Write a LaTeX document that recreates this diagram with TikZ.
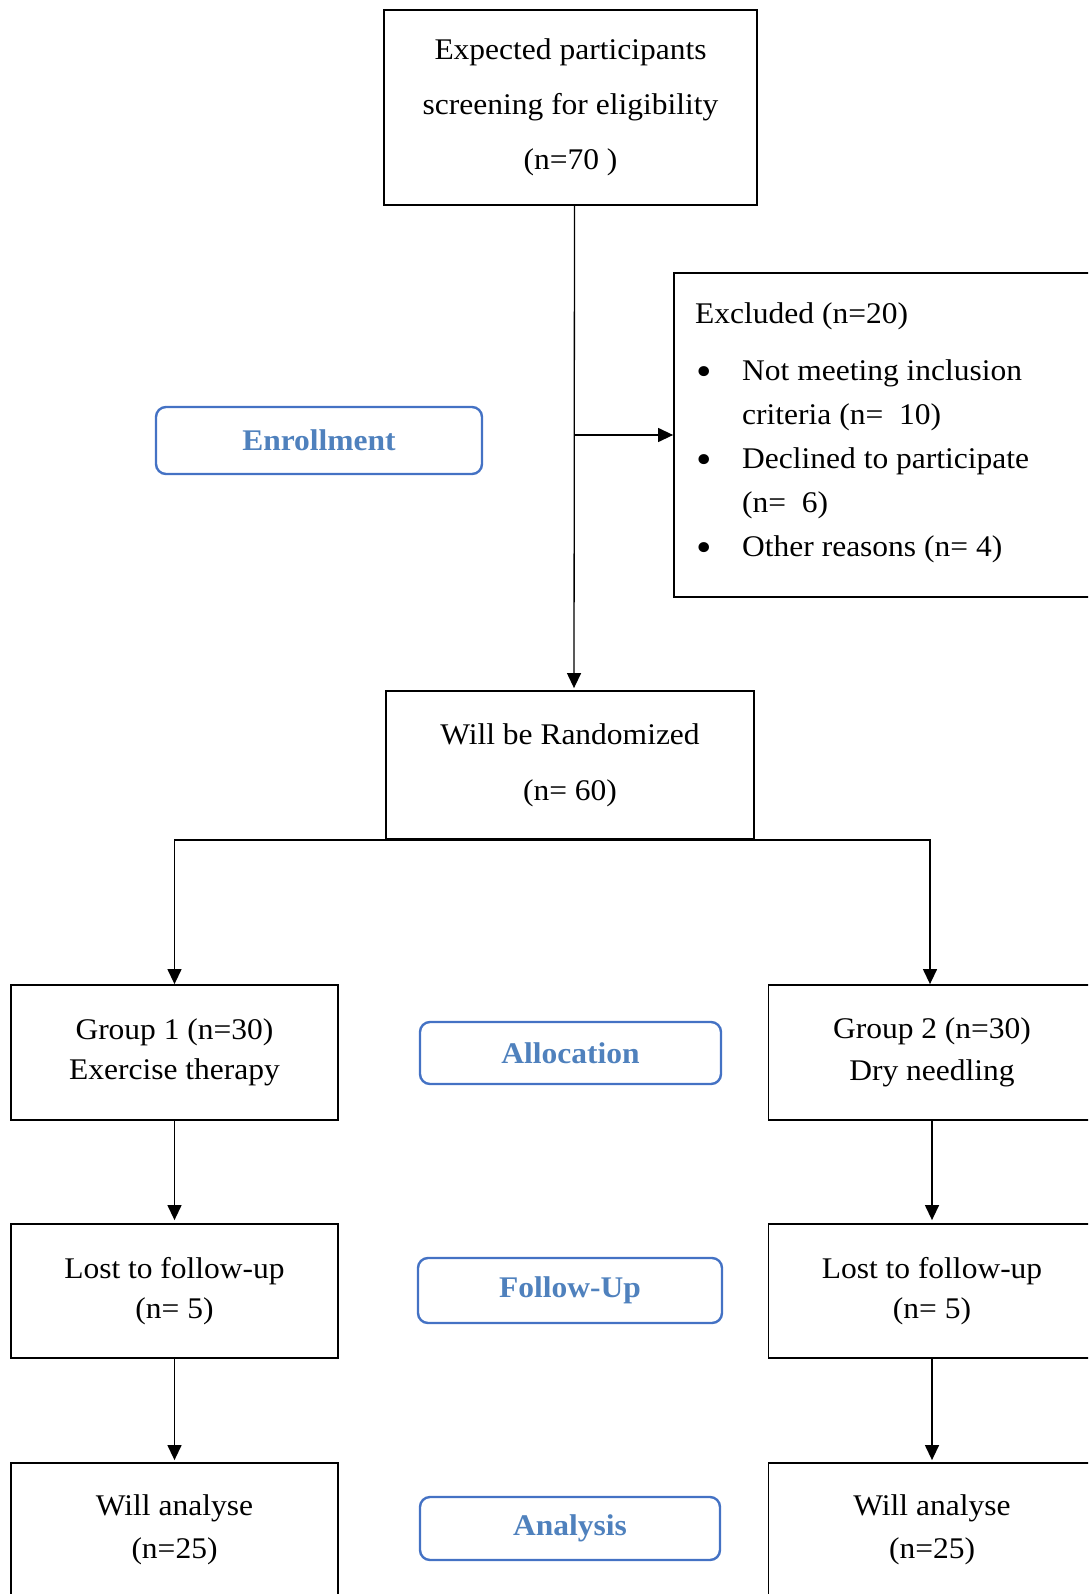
\documentclass[tikz,border=0pt]{standalone}
\usepackage{fontspec}
\setmainfont[FakeStretch=1.05]{Liberation Serif}
\usetikzlibrary{arrows}
\usetikzlibrary{arrows.meta}
\definecolor{stagetext}{RGB}{79,129,189}
\definecolor{stageedge}{RGB}{68,114,196}
\newcommand{\reasonmark}{\makebox[47pt][l]{\hspace{1pt}\raisebox{-5pt}{\fontsize{42}{42}\selectfont\textbullet}}}
\tikzset{
  box/.style={draw, line width=1.8pt, align=center, inner sep=0pt},
  stagebox/.style={draw=stageedge, line width=2.4pt, rounded corners=10pt, text=stagetext,
    font=\bfseries\fontsize{30}{36}\selectfont, inner sep=0pt},
  link/.style={line width=1.3pt, -{Triangle[length=15pt,width=14pt]}},
}
\begin{document}
\begin{tikzpicture}[x=1pt,y=-1pt]
    \useasboundingbox (0,0) rectangle (1088,1594);
    \clip (0,0) rectangle (1088,1594);
    \node[box, minimum width=373pt, minimum height=195pt, font=\fontsize{30}{55}\selectfont] (screen) at (570.5,107.5) {Expected participants\\screening for eligibility\\(n=70 )};
    \node[box, minimum width=440pt, minimum height=324pt] (excluded) at (894,435) {};
    \node[anchor=north west, inner sep=0pt, align=left, font=\fontsize{30}{44}\selectfont] (reasons) at (695,302) {Excluded (n=20)\\[13pt]
      \reasonmark Not meeting inclusion\\
      \hspace*{47pt}criteria (n=~~10)\\
      \reasonmark Declined to participate\\
      \hspace*{47pt}(n=~~6)\\
      \reasonmark Other reasons (n= 4)};
    \node[stagebox, minimum width=326pt, minimum height=67pt] (enrollment) at (319,440.5) {Enrollment};
    \node[box, minimum width=368pt, minimum height=148pt, font=\fontsize{30}{56}\selectfont] (random) at (570,765) {Will be Randomized\\(n= 60)};
    \draw[link, shorten >=2pt] ([xshift=4pt]screen.south) -- ([xshift=4pt]random.north);
    \draw[link] ([xshift=4pt]screen.south |- excluded.west) -- (excluded.west);

    \node[box, minimum width=327pt, minimum height=135pt, font=\fontsize{30}{40}\selectfont] (group1) at (174.5,1052.5) {Group 1 (n=30)\\Exercise therapy};
    \node[box, minimum width=327pt, minimum height=135pt, font=\fontsize{30}{42}\selectfont] (group2) at (932,1052.5) {Group 2 (n=30)\\Dry needling};
    \node[stagebox, minimum width=301pt, minimum height=62pt] (allocation) at (570.5,1053) {Allocation};
    \draw[link] (random.south) -| (group1.north);
    \draw[link] (random.south) -| ([xshift=-2pt]group2.north);

    \node[box, minimum width=327pt, minimum height=134pt, font=\fontsize{30}{40}\selectfont] (lost1) at (174.5,1291) {Lost to follow-up\\(n= 5)};
    \node[box, minimum width=327pt, minimum height=134pt, font=\fontsize{30}{40}\selectfont] (lost2) at (932,1291) {Lost to follow-up\\(n= 5)};
    \node[stagebox, minimum width=304pt, minimum height=65pt] (followup) at (570,1290.5) {Follow-Up};
    \draw[link, shorten >=3pt] (group1.south) -- (lost1.north);
    \draw[link, shorten >=3pt] (group2.south) -- (lost2.north);

    \node[box, minimum width=327pt, minimum height=134pt, font=\fontsize{30}{43}\selectfont] (analyse1) at (174.5,1530) {Will analyse\\(n=25)};
    \node[box, minimum width=327pt, minimum height=134pt, font=\fontsize{30}{43}\selectfont] (analyse2) at (932,1530) {Will analyse\\(n=25)};
    \node[stagebox, minimum width=300pt, minimum height=63pt] (analysis) at (570,1528.5) {Analysis};
    \draw[link, shorten >=2pt] (lost1.south) -- (analyse1.north);
    \draw[link, shorten >=2pt] (lost2.south) -- (analyse2.north);
\end{tikzpicture}
\end{document}
